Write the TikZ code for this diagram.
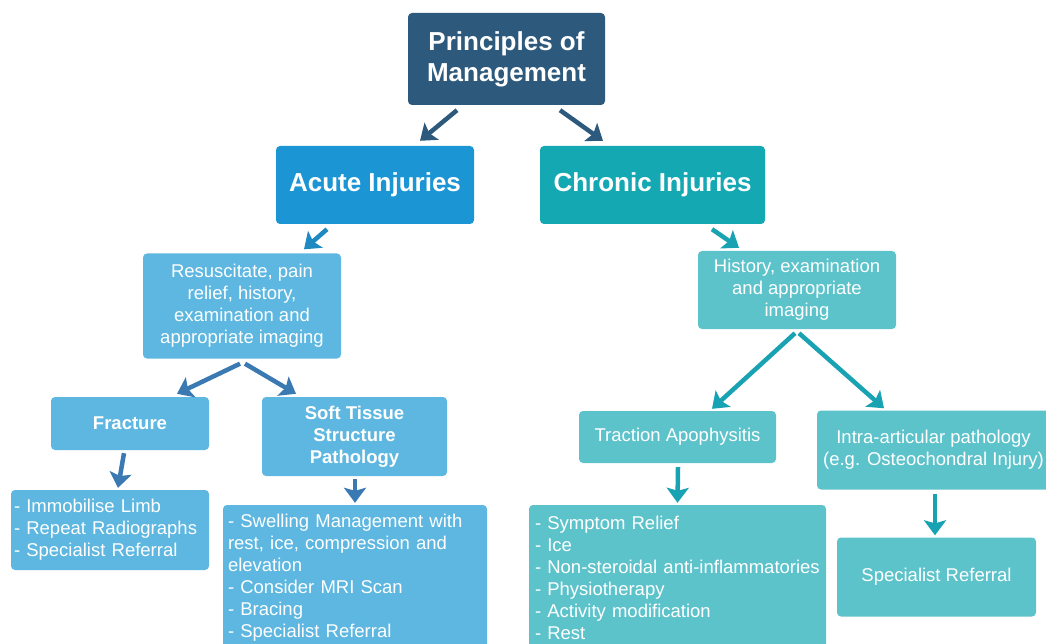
\documentclass[tikz,border=0pt]{standalone}
\usepackage{fontspec}
\setmainfont{Liberation Sans}
\usepackage{tikz}
\usetikzlibrary{arrows.meta, calc, positioning}

\definecolor{navybox}{HTML}{2D5A7C}
\definecolor{acutebox}{HTML}{1B95D3}
\definecolor{chronbox}{HTML}{14A8B3}
\definecolor{lightblue}{HTML}{5DB7E0}
\definecolor{lightteal}{HTML}{5DC3CB}
\definecolor{bluearrow}{HTML}{3A79B2}
\definecolor{tealarrow}{HTML}{19A3B2}

\tikzset{
  box/.style={rounded corners=4pt, text=white, inner sep=2pt, align=center,
    font=\fontsize{18.5}{22}\selectfont},
  bigbox/.style={box, font=\bfseries\fontsize{26}{31}\selectfont},
  listbox/.style={box, align=left, inner xsep=6pt},
  arr/.style={line width=4.5pt, -{Stealth[length=15pt, width=22pt, inset=3pt]}},
}

\begin{document}
\begin{tikzpicture}[x=1pt, y=-1pt]
        %\draw [step=50] (0,0) grid (1046,644);
        \useasboundingbox (0,0) rectangle (1046,644);

        \node[bigbox, fill=navybox, minimum width=197pt, minimum height=92pt] (top) at (506.5,59) {Principles of\\Management};
        \node[bigbox, fill=acutebox, minimum width=198pt, minimum height=78pt] (acute) at (375,185) {Acute Injuries};
        \node[bigbox, fill=chronbox, minimum width=225pt, minimum height=78pt] (chronic) at (652.5,185) {Chronic Injuries};

        \node[box, fill=lightblue, minimum width=198pt, minimum height=105pt] (resus) at (242,306) {Resuscitate, pain\\relief, history,\\examination and\\appropriate imaging};
        \node[box, fill=lightteal, minimum width=198pt, minimum height=78pt] (hist) at (797,290) {History, examination\\and appropriate\\imaging};

        \node[box, fill=lightblue, font=\bfseries\fontsize{18.5}{22}\selectfont, minimum width=158pt, minimum height=53pt] (frac) at (130,423.5) {Fracture};
        \node[box, fill=lightblue, font=\bfseries\fontsize{18.5}{22}\selectfont, minimum width=185pt, minimum height=79pt] (soft) at (354.5,436.5) {Soft Tissue\\Structure\\Pathology};
        \node[box, fill=lightteal, minimum width=197pt, minimum height=52pt] (trac) at (677.5,437) {Traction Apophysitis};
        \node[box, fill=lightteal, minimum width=233pt, minimum height=79pt] (intra) at (933.5,450) {Intra-articular pathology\\(e.g. Osteochondral Injury)};

        \node[listbox, fill=lightblue, minimum width=198pt, minimum height=80pt, text width=192pt, inner xsep=2pt] (immob) at (110,530) {- Immobilise Limb\\- Repeat Radiographs\\- Specialist Referral};
        \node[listbox, fill=lightblue, minimum width=264pt, minimum height=146pt, text width=254pt, inner xsep=5pt] (swell) at (355,578) {- Swelling Management with\\rest, ice, compression and\\elevation\\- Consider MRI Scan\\- Bracing\\- Specialist Referral};
        \node[listbox, fill=lightteal, minimum width=297pt, minimum height=146pt, text width=285pt] (symp) at (677.5,578) {- Symptom Relief\\- Ice\\- Non-steroidal anti-inflammatories\\- Physiotherapy\\- Activity modification\\- Rest};
        \node[box, fill=lightteal, minimum width=199pt, minimum height=79pt] (spec) at (936.5,577) {Specialist Referral};

        \draw[arr, navybox] ($(top.south)+(-49.5,5)$) -- ($(acute.north)+(45,-5)$);
        \draw[arr, navybox] ($(top.south)+(53.5,5)$) -- ($(chronic.north)+(-49.5,-5)$);
        \draw[arr, acutebox!80!navybox] ($(acute.south)+(-48,5)$) -- ($(resus.north)+(62,-4)$);
        \draw[arr, tealarrow] ($(chronic.south)+(59.5,5)$) -- ($(hist.north)+(-58,-3)$);
        \draw[arr, bluearrow] ($(resus.south)+(-2,5)$) -- ($(frac.north)+(47,-3)$);
        \draw[arr, bluearrow] ($(resus.south)+(3,5)$) -- ($(soft.north)+(-58.5,-3)$);
        \draw[arr, bluearrow] ($(frac.south)+(-6,3)$) -- ($(immob.north)+(8,-2)$);
        \draw[arr, bluearrow] ($(soft.south)+(0.5,3)$) -- ($(swell.north)+(0,-2)$);
        \draw[arr, tealarrow] ($(hist.south)+(-2,4)$) -- ($(trac.north)+(34.5,-2)$);
        \draw[arr, tealarrow] ($(hist.south)+(2,4)$) -- ($(intra.north)+(-49.5,-2)$);
        \draw[arr, tealarrow] ($(trac.south)+(0.5,4)$) -- ($(symp.north)+(0,-2)$);
        \draw[arr, tealarrow] ($(intra.south)+(1.5,4)$) -- ($(spec.north)+(-1.5,-2)$);
\end{tikzpicture}
\end{document}
